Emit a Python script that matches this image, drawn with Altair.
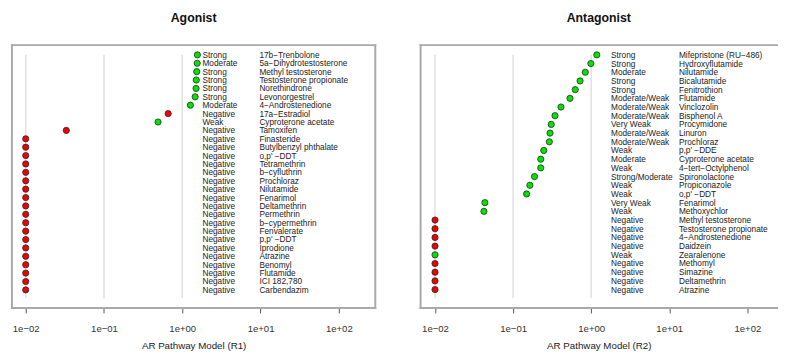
import altair as alt
import pandas as pd

# ---------------- data ----------------
ag_names = ["17b−Trenbolone", "5a−Dihydrotestosterone", "Methyl testosterone",
            "Testosterone propionate", "Norethindrone", "Levonorgestrel",
            "4−Androstenedione", "17a−Estradiol", "Cyproterone acetate", "Tamoxifen",
            "Finasteride", "Butylbenzyl phthalate", "o,p' −DDT", "Tetramethrin",
            "b−cyfluthrin", "Prochloraz", "Nilutamide", "Fenarimol", "Deltamethrin",
            "Permethrin", "b−cypermethrin", "Fenvalerate", "p,p' −DDT", "Iprodione",
            "Atrazine", "Benomyl", "Flutamide", "ICI 182,780", "Carbendazim"]
ag_activity = ["Strong", "Moderate", "Strong", "Strong", "Strong", "Strong",
               "Moderate", "Negative", "Weak", "Negative"] + ["Negative"] * 19
ag_values = [1.56, 1.55, 1.53, 1.51, 1.50, 1.46, 1.27, 0.66, 0.49, 0.033] + [0.01] * 19

an_names = ["Mifepristone (RU−486)", "Hydroxyflutamide", "Nilutamide", "Bicalutamide",
            "Fenitrothion", "Flutamide", "Vinclozolin", "Bisphenol A", "Procymidone",
            "Linuron", "Prochloraz", "p,p' −DDE", "Cyproterone acetate",
            "4−tert−Octylphenol", "Spironolactone", "Propiconazole", "o,p' −DDT",
            "Fenarimol", "Methoxychlor", "Methyl testosterone", "Testosterone propionate",
            "4−Androstenedione", "Daidzein", "Zearalenone", "Methomyl", "Simazine",
            "Deltamethrin", "Atrazine"]
an_activity = ["Strong", "Strong", "Moderate", "Strong", "Strong", "Moderate/Weak",
               "Moderate/Weak", "Moderate/Weak", "Very Weak", "Moderate/Weak",
               "Moderate/Weak", "Weak", "Moderate", "Weak", "Strong/Moderate", "Weak",
               "Weak", "Very Weak", "Weak", "Negative", "Negative", "Negative",
               "Negative", "Weak", "Negative", "Negative", "Negative", "Negative"]
an_values = [1.18, 0.99, 0.84, 0.72, 0.625, 0.535, 0.41, 0.344, 0.308, 0.297, 0.291,
             0.247, 0.226, 0.226, 0.188, 0.164, 0.149, 0.0435, 0.0423] + [0.01] * 9

tick_values = [0.01, 0.1, 1, 10, 100]
tick_labels = ["1e−02", "1e−01", "1e+00", "1e+01", "1e+02"]
grid_values = [0.01, 0.1, 1]

GREEN = "#00e400"
RED = "#f00000"
BOX = "#a9a9a9"
FONT = "Liberation Sans"
TXT_SIZE = 8.4

label_expr = "[" + ",".join("'%s'" % t for t in tick_labels) + "][round(log(datum.value)/LN10)+2]"


def panel(title, xtitle, names, activity, values, log_lo, log_hi, width,
          act_x, name_x, right_edge=True):
    n = len(names)
    df = pd.DataFrame({
        "name": names,
        "activity": activity,
        "ac50": values,
        "row": [n - i for i in range(n)],
        "status": ["neg" if a == "Negative" else "act" for a in activity],
    })
    df["act_x"] = act_x
    df["name_x"] = name_x

    ylo, yhi = -0.04 * n, 1.04 * n
    xlo, xhi = 10 ** log_lo, 10 ** log_hi
    xs = alt.Scale(type="log", domain=[xlo, xhi], nice=False, zero=False)
    ys = alt.Scale(domain=[ylo, yhi], nice=False, zero=False)

    xaxis = alt.Axis(values=tick_values, labelExpr=label_expr, title=xtitle,
                     grid=False, domain=False, ticks=True, tickSize=5,
                     tickColor="#555555", tickWidth=1, labelFont=FONT,
                     labelFontSize=9.7, labelColor="#333333", labelPadding=11,
                     titleFont=FONT, titleFontSize=9.9, titleFontWeight="normal",
                     titleColor="#222222", titlePadding=7, labelFlush=False)

    gdf = pd.DataFrame({"g": grid_values, "y0": [0] * len(grid_values),
                        "y1": [n] * len(grid_values)})
    grid = alt.Chart(gdf).mark_rule(color="#e0e0e0", strokeWidth=1.5).encode(
        x=alt.X("g:Q", scale=xs, axis=xaxis),
        y=alt.Y("y0:Q", scale=ys, axis=None),
        y2="y1:Q",
    )

    edges = [(xlo, xhi, yhi, yhi), (xlo, xhi, ylo, ylo), (xlo, xlo, ylo, yhi)]
    if right_edge:
        edges.append((xhi, xhi, ylo, yhi))
    bdf = pd.DataFrame(edges, columns=["bx", "bx2", "by", "by2"])
    box = alt.Chart(bdf).mark_rule(color=BOX, strokeWidth=2, strokeCap="square").encode(
        x=alt.X("bx:Q", scale=xs), x2="bx2:Q",
        y=alt.Y("by:Q", scale=ys), y2="by2:Q",
    )

    base = alt.Chart(df)
    pts = base.mark_circle(size=40, stroke="#2a2a2a", strokeWidth=0.8, opacity=1).encode(
        x=alt.X("ac50:Q", scale=xs),
        y=alt.Y("row:Q", scale=ys),
        fill=alt.Fill("status:N", scale=alt.Scale(domain=["act", "neg"], range=[GREEN, RED]),
                      legend=None),
    )
    txt_act = base.mark_text(align="left", baseline="middle", font=FONT, fontSize=TXT_SIZE,
                             color="#222222").encode(
        x=alt.X("act_x:Q", scale=xs), y=alt.Y("row:Q", scale=ys), text="activity:N")
    txt_name = base.mark_text(align="left", baseline="middle", font=FONT, fontSize=TXT_SIZE,
                              color="#222222").encode(
        x=alt.X("name_x:Q", scale=xs), y=alt.Y("row:Q", scale=ys), text="name:N")

    return alt.layer(grid, box, pts, txt_act, txt_name).properties(
        width=width, height=267,
        title=alt.TitleParams(text=title, font=FONT, fontSize=12.5, fontWeight="bold",
                              color="#111111", anchor="middle", offset=20),
    )


left_panel = panel("Agonist", "AR Pathway Model (R1)", ag_names, ag_activity, ag_values,
                   -2.176, -2.176 + 369 / 79.5, 369, 1.81, 9.66)
right_panel = panel("Antagonist", "AR Pathway Model (R2)", an_names, an_activity, an_values,
                    -2.185, -2.185 + 362 / 79.3, 362, 1.795, 13.3, right_edge=False)

chart = alt.hconcat(left_panel, right_panel, spacing=42).configure(
    padding={"left": 2, "top": 0, "right": 0, "bottom": 0},
    background="white",
).configure_view(stroke="transparent")

chart.save("out.html", embed_options={"renderer": "svg", "actions": False})
